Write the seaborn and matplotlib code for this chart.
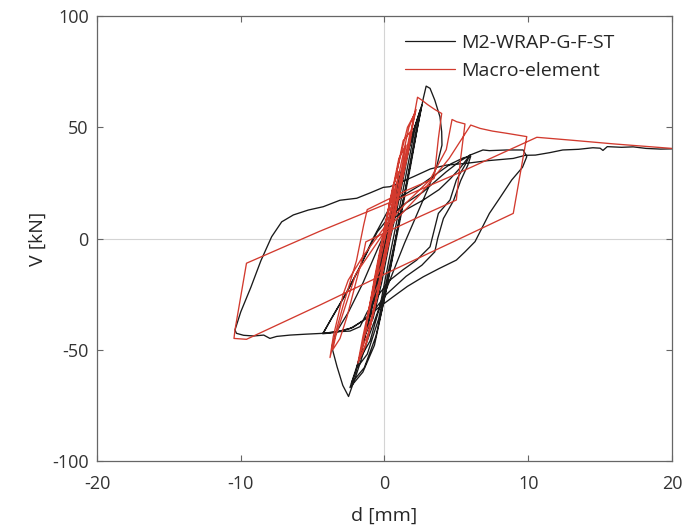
import matplotlib
matplotlib.use("Agg")
import matplotlib.pyplot as plt
import pandas as pd
import seaborn as sns
from matplotlib.lines import Line2D

test_d = [0, 0.5, 0.9, 0.4, -0.1, -0.6,
          -0.2, 0.3, 0.8, 1.2, 0.6, 0.0, -0.5, -1.0,
          -0.5, 0.0, 0.5, 1.0, 1.5, 0.9, 0.3, -0.3, -0.9, -1.4,
          -0.8, -0.2, 0.4, 0.9, 1.4, 1.8, 1.3, 0.6, 0.0, -0.7, -1.3, -1.7,
          -1.0, -0.3, 0.3, 0.8, 1.3, 1.9, 2.2, 1.6, 0.9, 0.2, -0.6, -1.3, -1.9,
          -1.2, -0.4, 0.3, 0.9, 1.4, 1.9, 2.3, 2.5, 1.9, 1.1, 0.3, -0.5, -1.3, -2.0, -2.3,
          -1.4, -0.6, 0.1, 0.7, 1.2, 1.8, 2.3, 2.6, 2.0, 1.3, 0.5, -0.3, -1.1, -1.8, -2.4,
          -1.5, -0.7, -0.1, 0.5, 1.0, 1.7, 2.3, 2.7,
          2.9, 3.17, 3.5, 3.86, 3.98, 4.0, 3.63, 3.0, 2.2, 1.4, 0.6, -0.3, -1.2, -1.9, -2.5, -2.9, -3.3,
          -3.67, -3.4, -2.5, -1.5, -0.5, 0.4, 1.5, 2.7, 3.8, 4.6, 5.3, 5.95,
          5.6, 5.0, 4.56, 3.75, 3.4, 3.17, 2.24, 1.3, 0.38, -0.5, -1.2, -1.7, -2.4, -3.3, -4.26,
          -3.7, -2.8, -1.8, -0.8, 0.2, 1.2, 2.5, 3.6, 4.6, 5.5, 6.0,
          5.8, 5.3, 4.8, 4.1, 3.7, 3.5, 2.6, 1.5, 0.15, -0.7, -1.5, -2.4, -3.5, -4.3,
          -3.6, -2.6, -1.5, -0.5, 0.38, 1.5, 2.7, 4.3, 5.3, 5.95, 6.85, 7.3, 8.5, 9.65, 9.9,
          9.6, 8.85, 8.0, 7.3, 6.8, 6.3, 5.6, 5.0, 3.8, 2.7, 1.6, 0.6, -0.4, -1.3, -2.2, -3.3, -4.26,
          -5.5, -6.57, -7.5, -7.97, -8.4, -9.1, -9.8, -10.3, -10.4,
          -10.0, -9.3, -8.6, -7.85, -7.15, -6.34, -5.3, -4.26, -3.1, -1.93, -1.0, -0.08, 0.38, 1.2,
          2.05, 3.2, 4.3, 5.7, 7.2, 8.96, 9.8, 10.5, 11.5, 12.4, 13.5, 14.5, 15.0, 15.2, 15.5, 16.5,
          17.3, 18.2, 19.2, 20.0]
test_v = [0, 10, 20, 8, -5, -20,
          -12, 0, 16, 30, 16, 0, -14, -32,
          -24, -10, 6, 22, 38, 24, 8, -10, -28, -44,
          -36, -20, 0, 14, 30, 44, 32, 14, -4, -24, -42, -54,
          -46, -30, -10, 6, 22, 42, 52, 38, 20, 0, -22, -42, -58,
          -52, -36, -14, 4, 20, 38, 52, 58, 46, 26, 4, -20, -42, -60, -65,
          -58, -44, -24, -4, 12, 32, 50, 60, 48, 30, 8, -16, -38, -55, -67,
          -60, -48, -30, -10, 8, 30, 50, 63,
          68.5, 67.5, 62.2, 54.7, 48, 42, 32.3, 22, 10, -2, -15, -30, -46, -60, -71, -66, -57.6,
          -48.6, -42.6, -33, -20, -5, 8, 13, 17.3, 22, 27, 32, 37.5,
          33, 26.3, 17.3, 11.3, 2.3, -3.7, -9.7, -14, -18.7, -26, -33, -39.6, -41.6, -41.9, -42.6,
          -36, -26, -14, 0, 12, 19, 24, 29, 33.5, 36.3, 37,
          33, 26, 17, 9, 0, -6, -12, -17, -25, -32, -37, -40.5, -42.3, -42.8,
          -35, -24, -10, 3, 10, 16, 21, 30, 35, 37.5, 39.8, 39.5, 39.8, 39.8, 36.8,
          32, 26.3, 18, 11.3, 5, -1.4, -6, -9.7, -13.5, -17.2, -21.5, -26.2, -31, -36, -40, -41.9, -42.6,
          -43, -43.4, -44, -44.9, -43.4, -43.8, -43.5, -42.6, -41.1,
          -33, -22, -10, 0.8, 7.5, 10.6, 12.8, 14.3, 17.2, 18.1, 20.5, 23, 23.3, 25.5,
          27.9, 31.3, 33, 33.8, 35, 36, 37.4, 37.5, 38.6, 39.8, 40.1, 40.8, 40.6, 39.6, 41.3, 41,
          41.2, 40.5, 40.2, 40.3]

# Macro-element model curve
model_d = [0, 0.4, 0.8, 0.4, 0.0, -0.4, -0.7, -0.2, 0.2,
           0.6, 1.0, 0.6, 0.1, -0.4, -0.9, -0.4, 0.1,
           0.6, 1.1, 1.5, 1.0, 0.5, -0.1, -0.7, -1.2, -1.4, -0.9, -0.3, 0.2,
           0.8, 1.3, 1.8, 1.3, 0.8, 0.2, -0.4, -1.0, -1.6, -1.1, -0.5, 0.1,
           0.7, 1.3, 1.9, 2.1, 1.6, 1.0, 0.3, -0.3, -0.9, -1.5, -1.85, -1.3, -0.7, -0.1,
           0.5, 1.1, 1.7, 2.0, 2.2, 1.7, 1.1, 0.5, -0.1, -0.7, -1.3, -1.75,
           -1.2, -0.6, 0.0, 0.6, 1.2, 1.8, 2.3,
           2.6, 3.0, 3.5, 3.98, 3.75, 3.45, 1.5, -0.1, -1.2, -1.45, -1.95, -2.5, -2.87, -3.3, -3.79,
           -3.56, -2.87, -2.52, -1.5, 0.0, 1.5, 3.16, 4.3, 4.7, 5.02, 5.6,
           5.3, 5.0, 2.5, 0.0, -1.3, -1.5, -2.0, -2.6, -3.1, -3.6,
           -3.4, -2.0, 0.0, 2.5, 4.5, 6.0, 6.65, 7.5, 8.5, 9.9,
           8.96, 5.0, 0.0, -4.49, -9.6, -10.47, -10.4, -9.6, -4.49, 0.5, 5.0, 10.6,
           13.0, 16.0, 20.0]
model_v = [0, 12, 24, 16, 4, -10, -20, -12, 0,
           14, 30, 24, 8, -10, -28, -20, -4,
           12, 28, 42, 36, 20, 2, -18, -36, -44, -36, -20, -2,
           14, 32, 48, 44, 28, 10, -10, -30, -50, -42, -24, -6,
           12, 30, 50, 56, 50, 34, 14, -6, -26, -44, -56, -48, -32, -14,
           4, 22, 40, 52, 58, 50, 32, 14, -4, -22, -40, -54,
           -46, -28, -10, 8, 26, 46, 63.5,
           62.2, 60.2, 58, 56.2, 45, 27, 21.5, 16.5, 13, 6, -10, -22, -30, -40, -53.5,
           -44, -25, -18.7, -8, 5, 16, 26.3, 40, 53.5, 52.5, 51.5,
           36, 17.3, 10, 2.5, -1.5, -8, -20, -35, -45, -50,
           -44, -16, 3, 20, 36, 51, 49.5, 48.3, 47.3, 45.8,
           11.3, -0.8, -16, -29.9, -45.3, -44.9, -41.1, -11.1, 3.3, 16.5, 29, 45.5,
           44.2, 42.5, 40.5]

series_names = ["M2-WRAP-G-F-ST", "Macro-element"]
series_colors = ["#1a1a1a", "#d23a2e"]

df = pd.concat([
    pd.DataFrame({"d": test_d, "V": test_v, "series": series_names[0]}),
    pd.DataFrame({"d": model_d, "V": model_v, "series": series_names[1]}),
], ignore_index=True)

sns.set_style("ticks")
plt.rcParams["font.family"] = ["Open Sans", "DejaVu Sans"]
plt.rcParams["axes.unicode_minus"] = False

fig = plt.figure(figsize=(6.84, 5.31), dpi=100)
ax = fig.add_axes([0.1418, 0.1318, 0.8406, 0.838])

ax.axhline(0, color="#d4d4d4", lw=0.8, zorder=0)
ax.axvline(0, color="#d4d4d4", lw=0.8, zorder=0)

sns.lineplot(data=df, x="d", y="V", hue="series", palette=dict(zip(series_names, series_colors)),
             sort=False, estimator=None, lw=0.95, legend=False, ax=ax)

ax.set_xlim(-20, 20)
ax.set_ylim(-100, 100)
ax.set_xticks([-20, -10, 0, 10, 20])
ax.set_yticks([-100, -50, 0, 50, 100])
ax.set_xlabel("d [mm]", fontsize=14, color="#262626", labelpad=10)
ax.set_ylabel("V [kN]", fontsize=14, color="#262626", labelpad=4)
ax.tick_params(direction="in", length=4, width=0.8, color="#666666", labelsize=13,
               labelcolor="#333333", top=True, right=True)
ax.tick_params(axis="x", pad=10)
ax.tick_params(axis="y", pad=6)
for s in ax.spines.values():
    s.set_color("#666666")
    s.set_linewidth(0.9)

handles = [Line2D([], [], color=c, lw=0.9) for c in series_colors]
ax.legend(handles, series_names, loc="upper left", bbox_to_anchor=(0.535, 0.96),
          frameon=False, fontsize=14, handlelength=2.6, handletextpad=0.3,
          borderpad=0, borderaxespad=0, labelspacing=0.5)

fig.savefig("out.png", dpi=100)
